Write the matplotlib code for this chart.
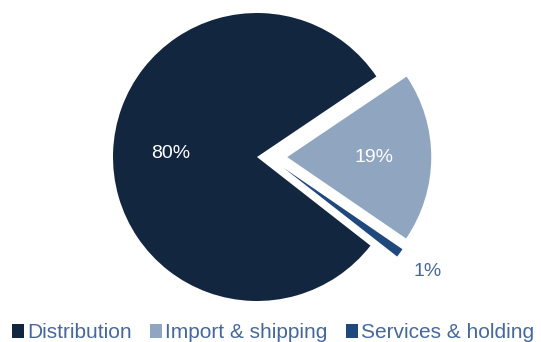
import matplotlib
matplotlib.use("Agg")
import matplotlib.pyplot as plt
import numpy as np
from matplotlib.patches import Patch

plt.rcParams['font.family'] = ['Liberation Sans', 'DejaVu Sans']

# Data
segments = ["Distribution", "Import & shipping", "Services & holding"]
shares = [80, 19, 1]
colors = ["#132640", "#8fa5c0", "#1f487c"]
explode = [0, 0.21, 0.2]
text_blue = "#46689b"

fig = plt.figure(figsize=(5.41, 3.42), dpi=100)
ax = fig.add_axes([0, 0, 1, 1])

wedges, texts, autotexts = ax.pie(
    shares, colors=colors, explode=explode, startangle=322,
    counterclock=False, autopct=lambda p: f"{p:.0f}%", pctdistance=0.6,
    wedgeprops=dict(linewidth=0), textprops=dict(fontsize=14, color="white"))

# the thin slice is pulled out a bit more towards the horizontal, like the original
w = wedges[2]
mid = np.deg2rad((w.theta1 + w.theta2) / 2)
push = mid + np.deg2rad(14)
cx, cy = 0.2 * w.r * np.cos(push), 0.2 * w.r * np.sin(push)
w.set_center((cx, cy))
autotexts[2].set_position((cx + 1.24 * w.r * np.cos(mid), cy + 1.22 * w.r * np.sin(mid)))
autotexts[2].set_color(text_blue)

# center at (257,157) px, radius 144 px
ax.set_xlim(-257 / 144, 284 / 144)
ax.set_ylim(-185 / 144, 157 / 144)
ax.axis("off")

handles = [Patch(facecolor=c, edgecolor="none") for c in colors]
fig.legend(handles, segments, loc="center left", bbox_to_anchor=(0.022, 0.027),
           ncol=3, frameon=False, fontsize=15, handlelength=0.6, handleheight=0.6,
           handletextpad=0.15, columnspacing=0.85, borderpad=0, borderaxespad=0,
           labelcolor=text_blue)

fig.savefig("out.png", dpi=100)
